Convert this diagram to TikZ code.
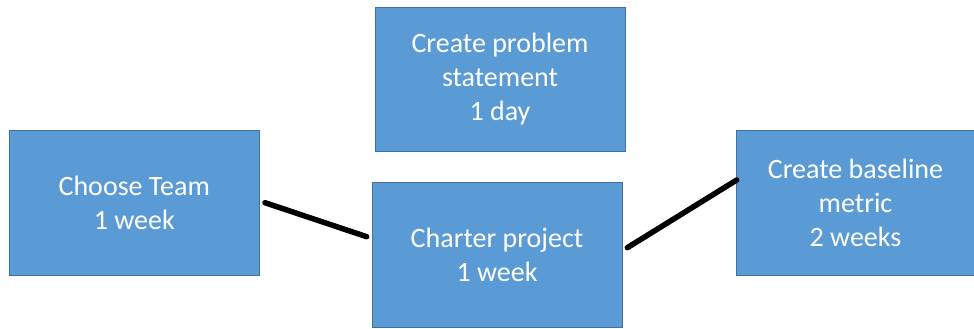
\documentclass[tikz,border=0pt]{standalone}
\usepackage{fontspec}
\setmainfont{Carlito}
\begin{document}
\begin{tikzpicture}[x=1pt,y=-1pt,
  taskbox/.style={draw=boxedge, fill=boxfill, line width=1pt, text=white, align=center,
    inner sep=0pt, font=\fontsize{28}{34}\selectfont},
  link/.style={line width=5.5pt, line cap=round, black}]
\definecolor{boxfill}{HTML}{5B9BD5}
\definecolor{boxedge}{HTML}{41719C}
\useasboundingbox (0,0) rectangle (974,329);
\node[taskbox, minimum width=249.5pt, minimum height=145pt] (team) at (134.25,203) {Choose Team\\1 week};
\node[taskbox, minimum width=250pt, minimum height=144.5pt] (problem) at (500,79.5) {Create problem\\statement\\1 day};
\node[taskbox, minimum width=250pt, minimum height=144.5pt] (charter) at (497,255) {Charter project\\1 week};
\node[taskbox, minimum width=238pt, minimum height=145pt] (baseline) at (855.5,203) {Create baseline\\metric\\2 weeks};
\coordinate (a1) at (265,202.7);
\coordinate (a2) at (366.7,236.7);
\coordinate (b1) at (627.3,247.7);
\coordinate (b2) at (736.7,180);
\draw[link] (a1) -- (a2);
\draw[link] (b1) -- (b2);
\end{tikzpicture}
\end{document}
